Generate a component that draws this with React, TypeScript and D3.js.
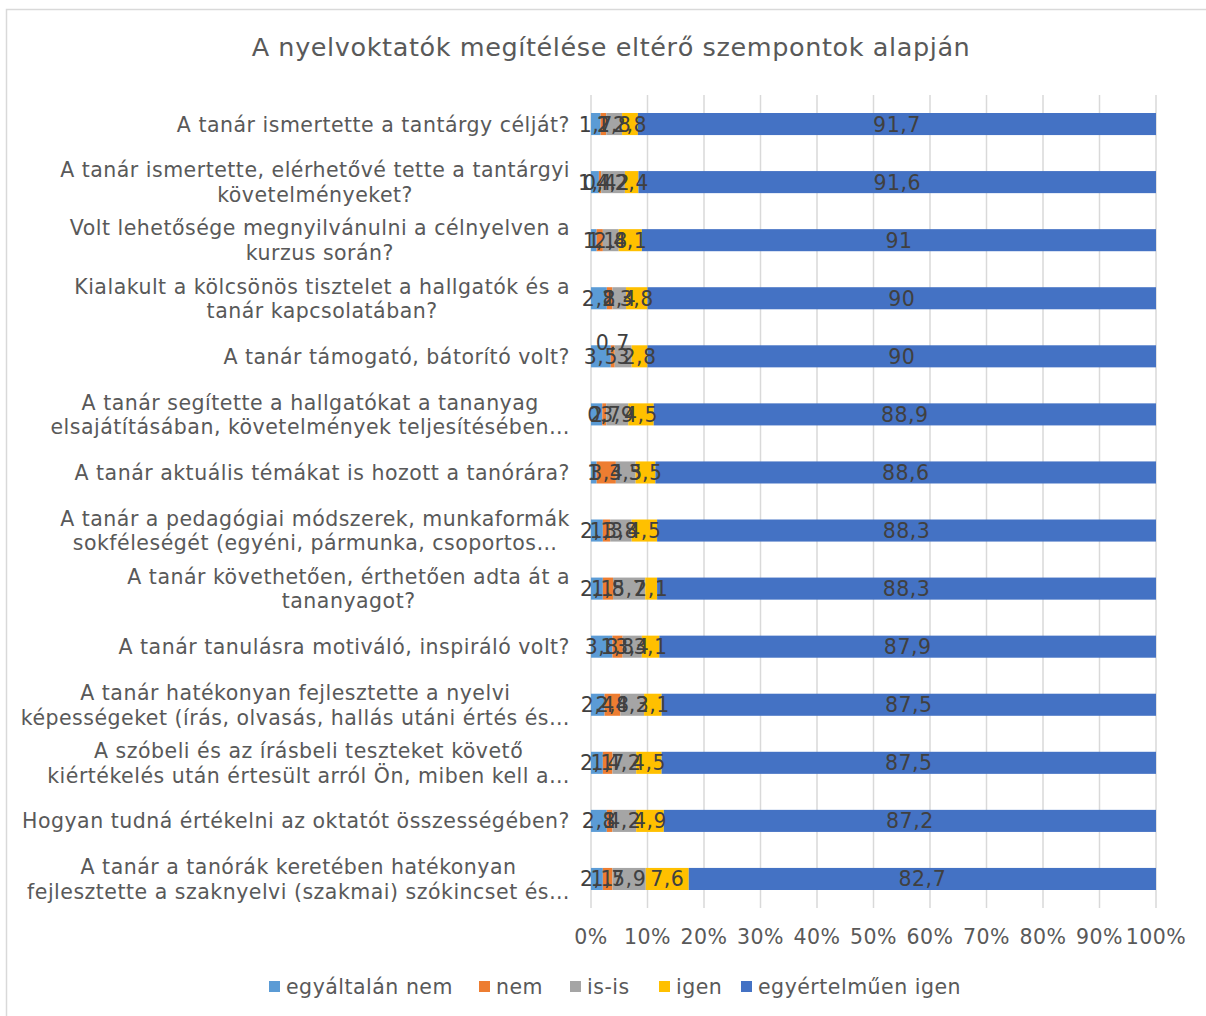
import React, { useEffect, useRef } from 'react';
import * as d3 from 'd3';

const title = 'A nyelvoktatók megítélése eltérő szempontok alapján';

const categories: string[][] = [
  ['A tanár ismertette a tantárgy célját?'],
  ['A tanár ismertette, elérhetővé tette a tantárgyi', 'követelményeket?'],
  ['Volt lehetősége megnyilvánulni a célnyelven a', 'kurzus során?'],
  ['Kialakult a kölcsönös tisztelet a hallgatók és a', 'tanár kapcsolatában?'],
  ['A tanár támogató, bátorító volt?'],
  ['A tanár segítette a hallgatókat a tananyag', 'elsajátításában, követelmények teljesítésében…'],
  ['A tanár aktuális témákat is hozott a tanórára?'],
  ['A tanár a pedagógiai módszerek, munkaformák', 'sokféleségét (egyéni, pármunka, csoportos…'],
  ['A tanár követhetően, érthetően adta át a', 'tananyagot?'],
  ['A tanár tanulásra motiváló, inspiráló volt?'],
  ['A tanár hatékonyan fejlesztette a nyelvi', 'képességeket (írás, olvasás, hallás utáni értés és…'],
  ['A szóbeli és az írásbeli teszteket követő', 'kiértékelés után értesült arról Ön, miben kell a…'],
  ['Hogyan tudná értékelni az oktatót összességében?'],
  ['A tanár a tanórák keretében hatékonyan', 'fejlesztette a szaknyelvi (szakmai) szókincset és…'],
];

const seriesNames = ['egyáltalán nem', 'nem', 'is-is', 'igen', 'egyértelműen igen'];
const egyaltalanNem = [1.7, 1.4, 1, 2.8, 3.5, 2, 1, 2.1, 2.1, 3.8, 2.4, 2.1, 2.8, 2.1];
const nem = [1, 0.4, 1.1, 1, 0.7, 0.7, 3.4, 1.3, 1.8, 1.8, 2.8, 1.7, 1, 1.7];
const isIs = [2.8, 4.2, 2.8, 2.4, 3, 3.9, 3.5, 3.8, 5.7, 3.4, 4.2, 4.2, 4.2, 5.9];
const igen = [2.8, 2.4, 4.1, 3.8, 2.8, 4.5, 3.5, 4.5, 2.1, 3.1, 3.1, 4.5, 4.9, 7.6];
const egyertelmuenIgen = [91.7, 91.6, 91, 90, 90, 88.9, 88.6, 88.3, 88.3, 87.9, 87.5, 87.5, 87.2, 82.7];
const xTicks = [0, 0.1, 0.2, 0.3, 0.4, 0.5, 0.6, 0.7, 0.8, 0.9, 1];

const colors = ['#5b9bd5', '#ed7d31', '#a5a5a5', '#ffc000', '#4472c4'];
const FONT = '"DejaVu Sans", Verdana, sans-serif';
const TXT = '#595959';
const FS = 20.5;
const LS = 0.5;

export default function App() {
  const ref = useRef<SVGSVGElement>(null);

  useEffect(() => {
    const svg = d3.select(ref.current);
    svg.selectAll('*').remove();
    const W = 1206, H = 1016;

    svg.append('rect').attr('x', 0).attr('y', 0).attr('width', W).attr('height', H).attr('fill', '#fff');
    svg.append('rect').attr('x', 6.5).attr('y', 9.5).attr('width', W + 20).attr('height', H + 20)
      .attr('fill', 'none').attr('stroke', '#d9d9d9').attr('stroke-width', 1.5);

    svg.append('text').attr('x', 611).attr('y', 56).attr('text-anchor', 'middle')
      .attr('font-family', FONT).attr('font-size', 25.5).attr('letter-spacing', 0.6)
      .attr('fill', TXT).text(title);

    const rows = categories.map((c, i) => ({
      idx: i,
      [seriesNames[0]]: egyaltalanNem[i],
      [seriesNames[1]]: nem[i],
      [seriesNames[2]]: isIs[i],
      [seriesNames[3]]: igen[i],
      [seriesNames[4]]: egyertelmuenIgen[i],
    }));

    const x = d3.scaleLinear().domain([0, 1]).range([591, 1156]);
    const y = d3.scaleBand<number>().domain(rows.map((r) => r.idx)).range([95, 908])
      .paddingInner(0.62).paddingOuter(0.31);

    svg.append('g').selectAll('line').data(xTicks).join('line')
      .attr('x1', (d) => x(d)).attr('x2', (d) => x(d))
      .attr('y1', 95).attr('y2', 908)
      .attr('stroke', '#d9d9d9').attr('stroke-width', 1.5);

    svg.append('g').selectAll('text').data(xTicks).join('text')
      .attr('x', (d) => x(d)).attr('y', 944).attr('text-anchor', 'middle')
      .attr('font-family', FONT).attr('font-size', FS).attr('letter-spacing', LS).attr('fill', TXT)
      .text((d) => `${Math.round(d * 100)}%`);

    const stack = d3.stack<any>().keys(seriesNames).offset(d3.stackOffsetExpand);
    const stacked = stack(rows);

    const g = svg.append('g');
    stacked.forEach((layer, si) => {
      g.append('g').attr('fill', colors[si]).selectAll('rect').data(layer).join('rect')
        .attr('x', (d) => x(d[0])).attr('width', (d) => x(d[1]) - x(d[0]))
        .attr('y', (d: any) => y(d.data.idx)!).attr('height', y.bandwidth());
    });

    const fmt = (v: number) => String(v).replace('.', ',');
    stacked.forEach((layer, si) => {
      g.append('g').selectAll('text').data(layer).join('text')
        .attr('x', (d) => (x(d[0]) + x(d[1])) / 2)
        .attr('y', (d: any) => {
          const cy = y(d.data.idx)! + y.bandwidth() / 2;
          const raised = d.data.idx === 4 && si === 1;
          return cy + (raised ? -14 : 0) + 7.5;
        })
        .attr('text-anchor', 'middle')
        .attr('font-family', FONT).attr('font-size', FS).attr('letter-spacing', LS).attr('fill', '#404040')
        .text((d: any) => fmt(d.data[seriesNames[si]]));
    });

    const lg = svg.append('g');
    categories.forEach((lines, i) => {
      const cy = y(i)! + y.bandwidth() / 2;
      const t = lg.append('text').attr('font-family', FONT).attr('font-size', FS)
        .attr('letter-spacing', LS).attr('fill', TXT).attr('text-anchor', 'middle');
      const lh = 24.5;
      const spans = lines.map((ln, k) =>
        t.append('tspan').attr('y', cy + 7.5 + (k - (lines.length - 1) / 2) * lh).text(ln));
      const widths = spans.map((s) => (s.node() as SVGTSpanElement).getComputedTextLength());
      const maxW = Math.max(...widths);
      spans.forEach((s) => s.attr('x', 570 - maxW / 2));
    });

    const legendX = [269, 479, 570, 659, 741];
    const leg = svg.append('g');
    seriesNames.forEach((n, i) => {
      leg.append('rect').attr('x', legendX[i]).attr('y', 981).attr('width', 11).attr('height', 11)
        .attr('fill', colors[i]);
      leg.append('text').attr('x', legendX[i] + 17).attr('y', 994)
        .attr('font-family', FONT).attr('font-size', FS).attr('letter-spacing', LS)
        .attr('fill', TXT).text(n);
    });
  }, []);

  return (
    <svg ref={ref} width={1206} height={1016}
      style={{ position: 'absolute', left: 0, top: 0, display: 'block' }} />
  );
}
